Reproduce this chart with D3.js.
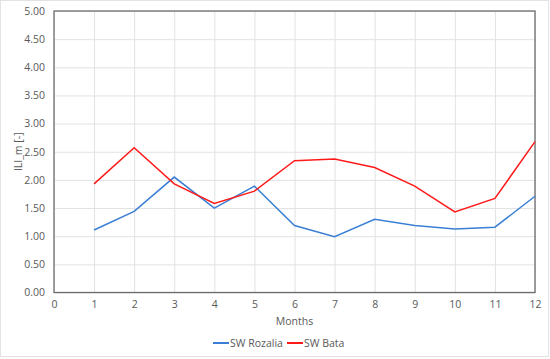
<!DOCTYPE html>
<html>
<head>
<meta charset="utf-8">
<script src="https://cdn.jsdelivr.net/npm/d3@7"></script>
<style>
    body { margin: 0; background: #fff; }
    svg text { font-family: "Open Sans", "Noto Sans", sans-serif; fill: #595959; }
</style>
</head>
<body>
<div id="chart"></div>
<script>
// data
var months = [1, 2, 3, 4, 5, 6, 7, 8, 9, 10, 11, 12];
var rozalia = [1.11, 1.44, 2.05, 1.50, 1.89, 1.19, 0.99, 1.30, 1.19, 1.13, 1.16, 1.71];
var bata = [1.93, 2.57, 1.93, 1.58, 1.80, 2.34, 2.37, 2.22, 1.89, 1.43, 1.67, 2.68];
var x_ticks = [0, 1, 2, 3, 4, 5, 6, 7, 8, 9, 10, 11, 12];
var y_ticks = [0, 0.5, 1, 1.5, 2, 2.5, 3, 3.5, 4, 4.5, 5];

var series = [
    {name: 'SW Rozalia', values: rozalia, color: '#3a7fd5'},
    {name: 'SW Bata', values: bata, color: '#ff1a1a'}
];

var width = 550, height = 359;
var plot = {left: 54, top: 11, right: 535, bottom: 292.5};

var svg = d3.select('#chart').append('svg')
    .attr('width', width)
    .attr('height', height);

// outer frame
svg.append('rect')
    .attr('x', 0.5).attr('y', 0.5)
    .attr('width', width - 2).attr('height', height - 3)
    .style('fill', 'none')
    .style('stroke', '#e3e3e3');

var x_scale = d3.scaleLinear().domain([0, 12]).range([plot.left, plot.right]);
var y_scale = d3.scaleLinear().domain([0, 5]).range([plot.bottom, plot.top]);

// grid
var x_axis = d3.axisBottom(x_scale)
    .tickValues(x_ticks)
    .tickFormat(d3.format('d'))
    .tickSizeInner(-(plot.bottom - plot.top))
    .tickSizeOuter(0)
    .tickPadding(8);

var y_axis = d3.axisLeft(y_scale)
    .tickValues(y_ticks)
    .tickFormat(d3.format('.2f'))
    .tickSizeInner(-(plot.right - plot.left))
    .tickSizeOuter(0)
    .tickPadding(9);

var gx = svg.append('g')
    .attr('transform', 'translate(0,' + plot.bottom + ')')
    .call(x_axis);
var gy = svg.append('g')
    .attr('transform', 'translate(' + plot.left + ',0)')
    .call(y_axis);

[gx, gy].forEach(function(g){
    g.select('.domain').remove();
    g.selectAll('.tick line').style('stroke', '#e2e2e2').style('stroke-width', 1);
    g.selectAll('.tick text')
        .style('font-size', '10.5px')
        .style('fill', '#595959');
});

// plot border
svg.append('rect')
    .attr('x', plot.left).attr('y', plot.top)
    .attr('width', plot.right - plot.left)
    .attr('height', plot.bottom - plot.top)
    .style('fill', 'none')
    .style('stroke', '#6e6e6e')
    .style('stroke-width', 1.3);

// lines
var line = d3.line()
    .x(function(d, i){ return x_scale(months[i]); })
    .y(function(d){ return y_scale(d); });

svg.selectAll('.series')
    .data(series)
    .enter()
    .append('path')
    .classed('series', true)
    .attr('d', function(d){ return line(d.values); })
    .style('fill', 'none')
    .style('stroke', function(d){ return d.color; })
    .style('stroke-width', 1.5);

// axis titles
svg.append('text')
    .attr('x', (plot.left + plot.right) / 2)
    .attr('y', 321)
    .attr('text-anchor', 'middle')
    .attr('dominant-baseline', 'central')
    .style('font-size', '10.5px')
    .text('Months');

svg.append('text')
    .attr('transform', 'translate(18,' + ((plot.top + plot.bottom) / 2) + ') rotate(-90)')
    .attr('text-anchor', 'middle')
    .attr('dominant-baseline', 'central')
    .style('font-size', '10.5px')
    .text('ILI_m [-]');

// legend
var legend_x = [213, 287];
var legend = svg.selectAll('.legend-item')
    .data(series)
    .enter()
    .append('g')
    .classed('legend-item', true)
    .attr('transform', function(d, i){ return 'translate(' + legend_x[i] + ',343)'; });

legend.append('line')
    .attr('x1', 0).attr('x2', 16)
    .attr('y1', 0).attr('y2', 0)
    .style('stroke', function(d){ return d.color; })
    .style('stroke-width', 2);

legend.append('text')
    .attr('x', 17)
    .attr('y', 0)
    .attr('dominant-baseline', 'central')
    .style('font-size', '10.5px')
    .text(function(d){ return d.name; });
</script>
</body>
</html>
